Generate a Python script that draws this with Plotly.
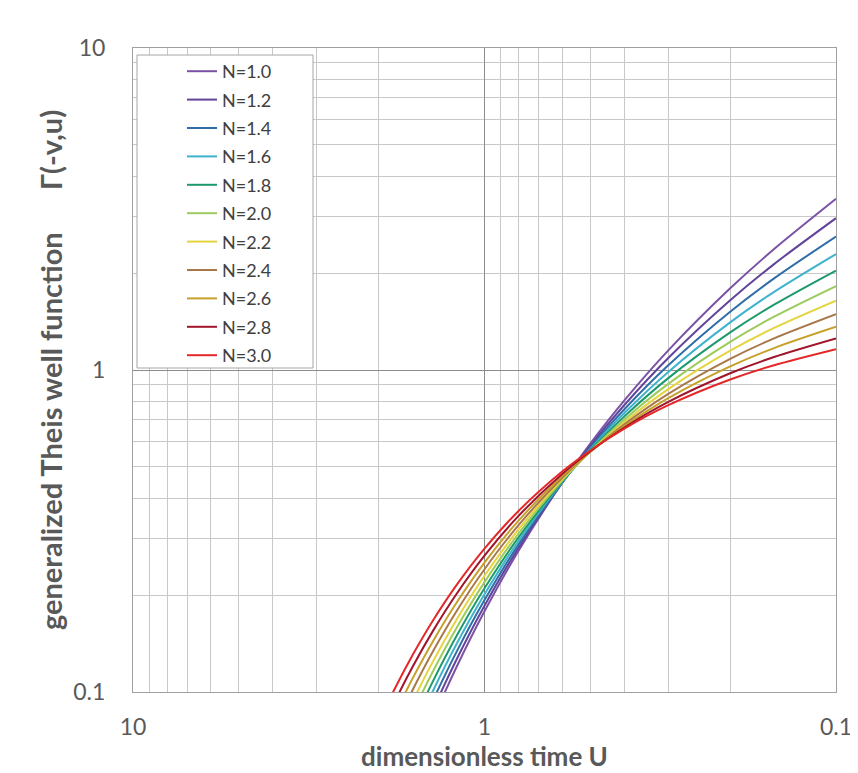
import plotly.graph_objects as go

# dimensionless time U (x values) and curve values Γ(-v,u) for each flow dimension N
u_vals = [0.1, 0.15, 0.2, 0.3, 0.4, 0.5, 0.6, 0.8, 1.0, 1.2, 1.4, 1.6, 1.8, 2.0]

n_labels = ["N=1.0", "N=1.2", "N=1.4", "N=1.6", "N=1.8", "N=2.0",
            "N=2.2", "N=2.4", "N=2.6", "N=2.8", "N=3.0"]

g_n10 = [3.4018, 2.3748, 1.7930, 1.1503, 0.8042, 0.5907, 0.4481, 0.2748, 0.1781, 0.1198, 0.0827, 0.0582, 0.0416, 0.0301]
g_n12 = [2.9617, 2.1326, 1.6458, 1.0891, 0.7784, 0.5817, 0.4475, 0.2808, 0.1853, 0.1264, 0.0883, 0.0629, 0.0454, 0.0331]
g_n14 = [2.5963, 1.9255, 1.5176, 1.0346, 0.7555, 0.5741, 0.4479, 0.2873, 0.1929, 0.1335, 0.0944, 0.0680, 0.0495, 0.0365]
g_n16 = [2.2917, 1.7481, 1.4057, 0.9863, 0.7353, 0.5680, 0.4492, 0.2944, 0.2011, 0.1412, 0.1011, 0.0736, 0.0541, 0.0402]
g_n18 = [2.0368, 1.5957, 1.3080, 0.9435, 0.7177, 0.5632, 0.4513, 0.3022, 0.2099, 0.1495, 0.1083, 0.0796, 0.0592, 0.0443]
g_n20 = [1.8229, 1.4645, 1.2227, 0.9057, 0.7024, 0.5598, 0.4544, 0.3106, 0.2194, 0.1584, 0.1162, 0.0863, 0.0647, 0.0489]
g_n22 = [1.6427, 1.3514, 1.1482, 0.8724, 0.6894, 0.5577, 0.4584, 0.3198, 0.2296, 0.1680, 0.1247, 0.0936, 0.0708, 0.0540]
g_n24 = [1.4905, 1.2539, 1.0831, 0.8432, 0.6785, 0.5569, 0.4634, 0.3298, 0.2406, 0.1785, 0.1340, 0.1016, 0.0776, 0.0596]
g_n26 = [1.3618, 1.1698, 1.0263, 0.8178, 0.6696, 0.5575, 0.4694, 0.3406, 0.2524, 0.1897, 0.1441, 0.1104, 0.0851, 0.0659]
g_n28 = [1.2528, 1.0973, 0.9770, 0.7960, 0.6628, 0.5593, 0.4764, 0.3523, 0.2651, 0.2019, 0.1551, 0.1200, 0.0933, 0.0729]
g_n30 = [1.1605, 1.0349, 0.9343, 0.7774, 0.6578, 0.5624, 0.4845, 0.3650, 0.2788, 0.2151, 0.1671, 0.1305, 0.1024, 0.0807]

series = [g_n10, g_n12, g_n14, g_n16, g_n18, g_n20, g_n22, g_n24, g_n26, g_n28, g_n30]

colors = ["#7B52A6", "#62449A", "#2F6DA8", "#3FB2CC", "#1C9A6C", "#9CCB5C",
          "#E4D43E", "#A8784A", "#C6A02A", "#A0142C", "#E4282A"]

x_tick_vals = [10, 1, 0.1]
x_tick_text = ["10", "1", "0.1"]
y_tick_vals = [0.1, 1, 10]
y_tick_text = ["0.1", "1", "10"]
minor_x = [9, 8, 7, 6, 5, 4, 3, 2, 0.9, 0.8, 0.7, 0.6, 0.5, 0.4, 0.3, 0.2]
minor_y = [0.2, 0.3, 0.4, 0.5, 0.6, 0.7, 0.8, 0.9, 2, 3, 4, 5, 6, 7, 8, 9]

FONT = "Lato, 'Open Sans', sans-serif"
# page body has an 8px margin, so the figure is offset by 8px inside the 858x773 window
OFF = 8
W, H = 858 - OFF, 773 - OFF
L, R, T, B = 133 - OFF, 22, 48 - OFF, 81
PW, PH = W - L - R, H - T - B


def px_x(p):  # page pixel -> paper x
    return (p - OFF - L) / PW


def px_y(p):  # page pixel -> paper y
    return (H - B - (p - OFF)) / PH


fig = go.Figure()
for i, (name, ys, col) in enumerate(zip(n_labels, series, colors)):
    fig.add_trace(go.Scatter(
        x=u_vals, y=ys, mode="lines", name=name,
        line=dict(color=col, width=2, shape="spline", smoothing=0.8),
        legendgroup=f"g{i}",
    ))

# legend frame (white box with grey border)
fig.add_shape(type="rect", xref="paper", yref="paper",
              x0=px_x(137), x1=px_x(313), y0=px_y(368), y1=px_y(55),
              line=dict(color="#a6a6a6", width=1), fillcolor="white", layer="above")

fig.update_layout(
    width=W, height=H,
    margin=dict(l=L, r=R, t=T, b=B),
    paper_bgcolor="white", plot_bgcolor="white",
    font=dict(family=FONT, color="#595959"),
    showlegend=True,
    legend=dict(
        x=px_x(182), y=px_y(53), xanchor="left", yanchor="top",
        bgcolor="rgba(0,0,0,0)", borderwidth=0,
        font=dict(size=18, color="#404040", family=FONT),
        tracegroupgap=2, traceorder="grouped",
    ),
    xaxis=dict(
        type="log", range=[1, -1], automargin=False,
        tickvals=x_tick_vals, ticktext=x_tick_text,
        tickfont=dict(size=23, color="#595959"),
        ticklabeloverflow="allow",
        showgrid=True, gridcolor="#8c8c8c", gridwidth=1,
        minor=dict(tickvals=minor_x, showgrid=True, gridcolor="#c8c8c8", gridwidth=1),
        showline=True, mirror=True, linecolor="#a0a0a0", linewidth=1,
        ticks="", zeroline=False, ticklabelstandoff=14,
        title=dict(text="<b>dimensionless time U</b>", font=dict(size=26, color="#595959"), standoff=8),
    ),
    yaxis=dict(
        type="log", range=[-1, 1], automargin=False,
        tickvals=y_tick_vals, ticktext=y_tick_text,
        tickfont=dict(size=23, color="#595959"),
        ticklabeloverflow="allow",
        showgrid=True, gridcolor="#8c8c8c", gridwidth=1,
        minor=dict(tickvals=minor_y, showgrid=True, gridcolor="#c8c8c8", gridwidth=1),
        showline=True, mirror=True, linecolor="#a0a0a0", linewidth=1,
        ticks="", zeroline=False, ticklabelstandoff=22,
        title=dict(text="<b>generalized Theis well function\u00a0\u00a0\u00a0\u00a0\u00a0\u00a0Γ(-v,u)</b>",
                   font=dict(size=29, color="#595959"), standoff=2),
    ),
)

fig.write_html("out.html")
